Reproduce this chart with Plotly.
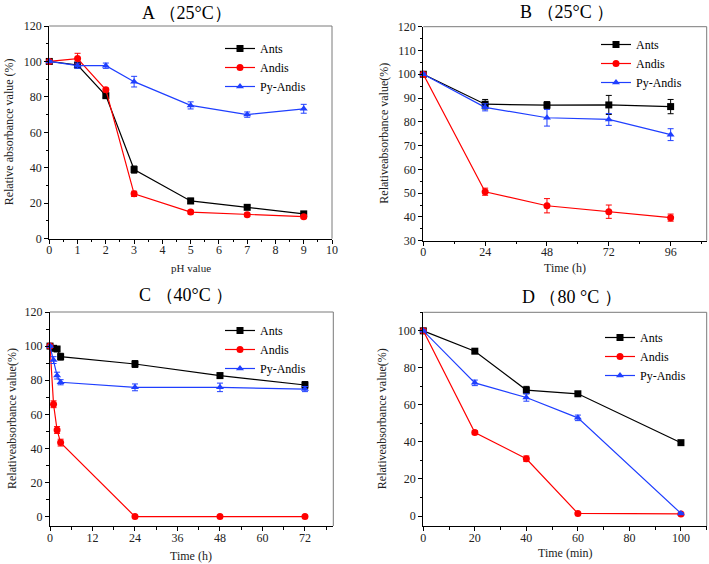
import plotly.graph_objects as go

# ---------------- data ----------------
series_names = ["Ants", "Andis", "Py-Andis"]

# Panel A: pH
a_x = [0, 1, 2, 3, 5, 7, 9]
a_ants = [100, 98, 80.7, 39, 21.3, 17.7, 14]
a_ants_err = [0.5, 1, 1, 2, 1.5, 1, 1]
a_andis = [100, 101.6, 84, 25.3, 15, 13.5, 12.4]
a_andis_err = [0.5, 3, 1, 1.5, 1, 1, 1]
a_py = [100, 97.6, 97.6, 88.6, 75.2, 70, 73.3]
a_py_err = [0.5, 1.5, 1.5, 3, 2, 1.5, 2.5]

# Panel B: time (h), 25°C
b_x = [0, 24, 48, 72, 96]
b_ants = [100, 87.4, 87, 87.1, 86.4]
b_ants_err = [0.5, 2, 1.5, 4, 3]
b_andis = [100, 50.6, 44.7, 42.2, 39.7]
b_andis_err = [0.5, 1.5, 3, 2.8, 1.5]
b_py = [100, 86.1, 81.7, 81, 74.6]
b_py_err = [0.5, 1.5, 3.5, 2.5, 2.5]

# Panel C: time (h), 40°C
c_x = [0, 1, 2, 3, 24, 48, 72]
c_ants = [100, 98.7, 98.3, 93.8, 89.5, 82.7, 77.2]
c_ants_err = [0.5, 1, 1, 2, 2, 1.5, 2]
c_andis = [100, 65.9, 50.8, 43.4, 0, 0, 0]
c_andis_err = [0.5, 2, 2, 2, 0.5, 0.5, 0.5]
c_py = [100, 91.8, 82.7, 78.8, 75.8, 75.8, 74.8]
c_py_err = [0.5, 2, 2, 1.5, 2, 2.5, 1.5]

# Panel D: time (min), 80°C
d_x = [0, 20, 40, 60, 100]
d_ants = [100, 89, 68, 66, 39.6]
d_ants_err = [0.5, 1, 2, 1, 1]
d_andis = [100, 45.1, 30.9, 1.4, 1.1]
d_andis_err = [0.5, 1, 1.5, 0.5, 0.5]
d_py = [100, 71.9, 64, 53, 1.4]
d_py_err = [0.5, 1.5, 2, 1.5, 0.5]

titles = ["A \uff0825\u00b0C\uff09", "B \uff0825\u00b0C \uff09", "C \uff0840\u00b0C \uff09", "D \uff0880 \u00b0C \uff09"]
xlabels = ["pH value", "Time (h)", "Time (h)", "Time (min)"]
ylabels = ["Relative absorbance value (%)", "Relativeabsorbance value(%)",
           "Relativeabsorbance value(%)", "Relativeabsorbance value(%)"]

colors = ["#000000", "#ff0000", "#1f3fff"]
symbols = ["square", "circle", "triangle-up"]

FONT = "Liberation Serif"
W, H = 709, 564

def px2x(p):
    return p / W

def px2y(p):
    return 1 - p / H

panels = [
    dict(x=a_x, ys=[a_ants, a_andis, a_py], es=[a_ants_err, a_andis_err, a_py_err],
         dom_x=(49.3, 332), dom_y=(26, 238.7), xr=[0, 10], yr=[0, 120],
         xdt=1, xminor=0.5, ydt=20, yminor=10, xt0=0, yt0=0,
         title_pos=(187, 13), xl_pos=(191, 268), yl_x=9, leg=(220, 34)),
    dict(x=b_x, ys=[b_ants, b_andis, b_py], es=[b_ants_err, b_andis_err, b_py_err],
         dom_x=(423.3, 706.7), dom_y=(26.7, 240.7), xr=[0, 110], yr=[30, 120],
         xdt=24, xminor=12, ydt=10, yminor=5, xt0=0, yt0=30,
         title_pos=(567, 12), xl_pos=(565, 268), yl_x=384, leg=(596, 30)),
    dict(x=c_x, ys=[c_ants, c_andis, c_py], es=[c_ants_err, c_andis_err, c_py_err],
         dom_x=(50, 333.3), dom_y=(312, 526), xr=[0, 80], yr=[-5.5, 120],
         xdt=12, xminor=6, ydt=20, yminor=10, xt0=0, yt0=0,
         title_pos=(186, 295), xl_pos=(191, 556), yl_x=12, leg=(220, 316)),
    dict(x=d_x, ys=[d_ants, d_andis, d_py], es=[d_ants_err, d_andis_err, d_py_err],
         dom_x=(423.3, 706.7), dom_y=(312.3, 526), xr=[0, 110], yr=[-5.4, 110],
         xdt=20, xminor=10, ydt=20, yminor=10, xt0=0, yt0=0,
         title_pos=(572, 297), xl_pos=(565, 553), yl_x=382, leg=(600, 323)),
]

fig = go.Figure()
layout = dict(
    template="none",
    width=W, height=H, margin=dict(l=0, r=0, t=0, b=0, pad=0, autoexpand=False),
    paper_bgcolor="white", plot_bgcolor="white",
    showlegend=True,
    font=dict(family=FONT, color="#222222", size=12),
)
annotations = []
shapes = []

for i, p in enumerate(panels):
    n = i + 1
    xa = "xaxis" if n == 1 else f"xaxis{n}"
    ya = "yaxis" if n == 1 else f"yaxis{n}"
    xref = "x" if n == 1 else f"x{n}"
    yref = "y" if n == 1 else f"y{n}"
    lg = "legend" if n == 1 else f"legend{n}"
    for s in range(3):
        fig.add_trace(go.Scatter(
            x=p["x"], y=p["ys"][s], mode="lines+markers", name=series_names[s],
            line=dict(color=colors[s], width=1.2),
            marker=dict(symbol=symbols[s], size=7, color=colors[s]),
            error_y=dict(type="data", array=p["es"][s], visible=True, color=colors[s],
                         thickness=1, width=3),
            xaxis=xref, yaxis=yref, cliponaxis=False, legend=lg,
        ))
    axis_common = dict(
        showgrid=False, zeroline=False, showline=True, linecolor="#000000", linewidth=1.2,
        ticks="outside", ticklen=4, tickcolor="#000000", tickwidth=1, automargin=False,
        tickfont=dict(family=FONT, size=12, color="#222222"),
    )
    layout[xa] = dict(
        domain=[px2x(p["dom_x"][0]), px2x(p["dom_x"][1])],
        range=p["xr"], anchor=yref, tick0=p["xt0"], dtick=p["xdt"], ticklabelstandoff=-4,
        minor=dict(ticks="outside", ticklen=2.5, dtick=p["xminor"], tick0=p["xt0"], tickcolor="#000000"),
        **axis_common,
    )
    layout[ya] = dict(
        domain=[px2y(p["dom_y"][1]), px2y(p["dom_y"][0])],
        range=p["yr"], anchor=xref, tick0=p["yt0"], dtick=p["ydt"], ticklabelstandoff=0,
        minor=dict(ticks="outside", ticklen=2.5, dtick=p["yminor"], tick0=p["yt0"], tickcolor="#000000"),
        **axis_common,
    )
    shapes.append(dict(type="line", xref=f"{xref} domain", yref=f"{yref} domain",
                       x0=0, x1=1, y0=1, y1=1, line=dict(color="#7a7a7a", width=1), layer="below"))
    shapes.append(dict(type="line", xref=f"{xref} domain", yref=f"{yref} domain",
                       x0=1, x1=1, y0=0, y1=1, line=dict(color="#7a7a7a", width=1), layer="below"))
    annotations.append(dict(text=titles[i], x=px2x(p["title_pos"][0]), y=px2y(p["title_pos"][1]),
                            xref="paper", yref="paper", showarrow=False,
                            font=dict(family=FONT, size=18, color="#000000"),
                            xanchor="center", yanchor="middle"))
    annotations.append(dict(text=xlabels[i], x=px2x(p["xl_pos"][0]), y=px2y(p["xl_pos"][1]),
                            xref="paper", yref="paper", showarrow=False,
                            font=dict(family=FONT, size=12 if i else 11, color="#222222"),
                            xanchor="center", yanchor="middle"))
    ymid = (p["dom_y"][0] + p["dom_y"][1]) / 2
    annotations.append(dict(text=ylabels[i], x=px2x(p["yl_x"]), y=px2y(ymid),
                            xref="paper", yref="paper", showarrow=False, textangle=-90,
                            font=dict(family=FONT, size=12, color="#222222"),
                            xanchor="center", yanchor="middle"))
    layout[lg] = dict(x=px2x(p["leg"][0]), y=px2y(p["leg"][1]), xanchor="left", yanchor="top",
                      bgcolor="rgba(0,0,0,0)", borderwidth=0,
                      font=dict(family=FONT, size=12, color="#000000"),
                      tracegroupgap=0, itemwidth=30)

layout["annotations"] = annotations
layout["shapes"] = shapes
fig.update_layout(**layout)
fig.write_html("out.html", config={"displayModeBar": False},
               post_script="document.body.style.margin='0';document.body.style.padding='0';")
